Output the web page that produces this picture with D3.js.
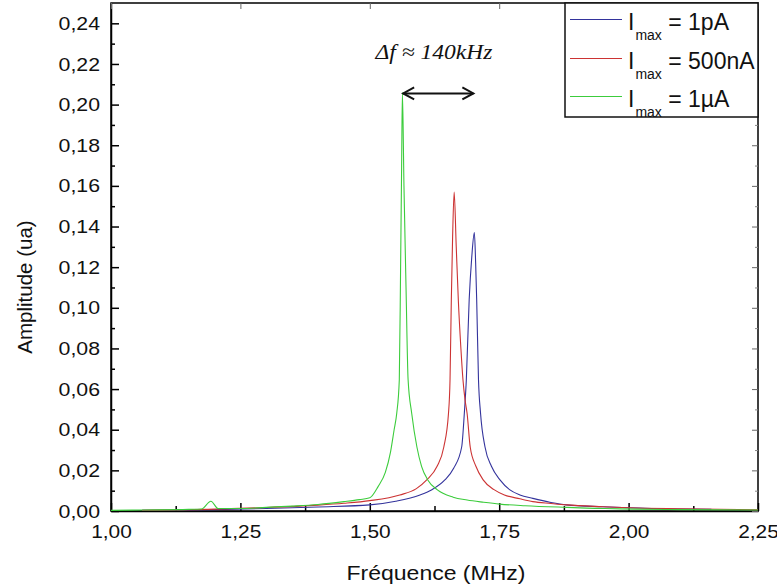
<!DOCTYPE html>
<html>
<head>
<meta charset="utf-8">
<script src="https://cdn.jsdelivr.net/npm/d3@7"></script>
<style>
  html, body { margin: 0; padding: 0; background: #fff; }
  svg { display: block; }
</style>
</head>
<body>
<svg id="chart" width="777" height="588"></svg>
<script>
// ---- data ----
const xTicks = [1.00, 1.25, 1.50, 1.75, 2.00, 2.25];
const yTicks = [0.00, 0.02, 0.04, 0.06, 0.08, 0.10, 0.12, 0.14, 0.16, 0.18, 0.20, 0.22, 0.24];

const blueF = [1.06, 1.20, 1.30, 1.40, 1.50, 1.55, 1.597, 1.62, 1.645, 1.662, 1.6775, 1.6826, 1.6865, 1.692, 1.697, 1.702, 1.7045, 1.7065, 1.710, 1.714, 1.7226, 1.735, 1.7515, 1.77, 1.79, 1.815, 1.85, 1.88, 1.95, 2.00, 2.10, 2.16];
const blueA = [0.0003, 0.0007, 0.0012, 0.0020, 0.0030, 0.0048, 0.0079, 0.0105, 0.0153, 0.021, 0.0315, 0.048, 0.0646, 0.104, 0.125, 0.137, 0.122, 0.104, 0.0646, 0.048, 0.0315, 0.022, 0.0153, 0.0105, 0.0079, 0.0062, 0.0042, 0.0030, 0.0021, 0.0016, 0.0010, 0.0008];

const redF = [1.06, 1.20, 1.30, 1.40, 1.45, 1.50, 1.558, 1.59, 1.61, 1.63, 1.643, 1.652, 1.655, 1.6575, 1.660, 1.663, 1.667, 1.671, 1.676, 1.680, 1.684, 1.688, 1.694, 1.705, 1.719, 1.74, 1.76, 1.79, 1.815, 1.85, 1.88, 1.95, 2.00, 2.10, 2.25];
const redA = [0.0004, 0.0009, 0.0017, 0.0029, 0.0038, 0.0051, 0.0079, 0.0110, 0.0153, 0.022, 0.0315, 0.048, 0.0646, 0.104, 0.135, 0.157, 0.130, 0.104, 0.080, 0.0646, 0.0547, 0.048, 0.0315, 0.022, 0.0153, 0.0105, 0.0079, 0.0060, 0.0046, 0.0037, 0.0030, 0.0021, 0.0016, 0.0011, 0.0006];

const greenF = [1.00, 1.06, 1.15, 1.175, 1.193, 1.207, 1.25, 1.30, 1.35, 1.40, 1.45, 1.48, 1.50, 1.516, 1.530, 1.540, 1.547, 1.552, 1.557, 1.5595, 1.5615, 1.563, 1.566, 1.570, 1.574, 1.581, 1.591, 1.600, 1.612, 1.630, 1.661, 1.688, 1.720, 1.751, 1.80, 1.881, 2.01, 2.10, 2.25];
const greenA = [0.0003, 0.0005, 0.0008, 0.0010, 0.0048, 0.0012, 0.0012, 0.0018, 0.0024, 0.0032, 0.0046, 0.0056, 0.0065, 0.0120, 0.0190, 0.0290, 0.040, 0.048, 0.0646, 0.12, 0.17, 0.206, 0.16, 0.11, 0.0646, 0.048, 0.0315, 0.022, 0.0153, 0.0105, 0.0068, 0.0054, 0.0043, 0.0034, 0.0026, 0.0018, 0.0009, 0.0007, 0.0005];

const seriesNames = ["1pA", "500nA", "1\u00b5A"];
const seriesColors = ["#33339c", "#cc3333", "#3ccc3c"];

const arrowF = [1.5625, 1.702];
const arrowA = 0.2055;
const annotF = 1.624;
const annotA = 0.2225;
const annotText = "\u0394f \u2248 140kHz";

// ---- layout ----
const svg = d3.select("#chart");
const L = 111, R = 758, T = 3, B = 511;
const x = d3.scaleLinear().domain([1.0, 2.25]).range([L, R]);
const y = d3.scaleLinear().domain([0, 0.25]).range([B, T]);
const fmt = v => d3.format(".2f")(v).replace(".", ",");
const SANS = "Arial, 'Liberation Sans', sans-serif";

// stretch text horizontally like the reference
function stretch(sel, k) {
  sel.each(function () {
    const w = this.getComputedTextLength();
    d3.select(this).attr("textLength", w * k).attr("lengthAdjust", "spacingAndGlyphs");
  });
}

// frame
svg.append("rect").attr("x", L).attr("y", T).attr("width", R - L).attr("height", B - T)
  .attr("fill", "none").attr("stroke", "#000").attr("stroke-width", 1.5);

// axes (ticks pointing inward)
const xMinor = d3.range(1.125, 2.25, 0.25);
const yMinor = d3.range(0.01, 0.25, 0.02);

const bottom = svg.append("g").attr("transform", `translate(0,${B})`)
  .call(d3.axisBottom(x).tickValues(xTicks).tickFormat(fmt).tickSizeInner(-8).tickSizeOuter(0).tickPadding(14));
bottom.select(".domain").attr("stroke-width", 1.5);
bottom.selectAll(".tick line").attr("stroke-width", 1.5);
bottom.selectAll("text").attr("font-family", SANS).attr("font-size", 19).attr("fill", "#111").call(stretch, 1.1);
svg.append("g").attr("transform", `translate(0,${B})`)
  .call(d3.axisBottom(x).tickValues(xMinor).tickFormat("").tickSizeInner(-5).tickSizeOuter(0))
  .call(g => g.select(".domain").remove()).selectAll("line").attr("stroke-width", 1.5);

const left = svg.append("g").attr("transform", `translate(${L},0)`)
  .call(d3.axisLeft(y).tickValues(yTicks).tickFormat(fmt).tickSizeInner(-8).tickSizeOuter(0).tickPadding(11));
left.select(".domain").attr("stroke-width", 1.5);
left.selectAll(".tick line").attr("stroke-width", 1.5);
left.selectAll("text").attr("font-family", SANS).attr("font-size", 19).attr("fill", "#111").call(stretch, 1.12);
svg.append("g").attr("transform", `translate(${L},0)`)
  .call(d3.axisLeft(y).tickValues(yMinor).tickFormat("").tickSizeInner(-4).tickSizeOuter(0))
  .call(g => g.select(".domain").remove()).selectAll("line").attr("stroke-width", 1.5);

// top & right axes ticks
svg.append("g").attr("transform", `translate(0,${T})`)
  .call(d3.axisTop(x).tickValues(xTicks).tickFormat("").tickSizeInner(-6).tickSizeOuter(0))
  .call(g => g.select(".domain").remove()).selectAll("line").attr("stroke", "#666");
svg.append("g").attr("transform", `translate(${R},0)`)
  .call(d3.axisRight(y).tickValues(yTicks).tickFormat("").tickSizeInner(-6).tickSizeOuter(0))
  .call(g => g.select(".domain").remove()).selectAll("line").attr("stroke", "#666");
svg.append("g").attr("transform", `translate(${R},0)`)
  .call(d3.axisRight(y).tickValues(yMinor).tickFormat("").tickSizeInner(-3).tickSizeOuter(0))
  .call(g => g.select(".domain").remove()).selectAll("line").attr("stroke", "#888");

// axis titles
svg.append("text").attr("x", 436).attr("y", 580).attr("text-anchor", "middle")
  .attr("font-family", SANS).attr("font-size", 20).attr("fill", "#111")
  .text("Fréquence (MHz)").call(stretch, 1.15);
svg.append("text").attr("transform", `translate(32,287) rotate(-90)`).attr("text-anchor", "middle")
  .attr("font-family", SANS).attr("font-size", 20.5).attr("fill", "#111")
  .text("Amplitude (ua)");

// curves
const line = d3.line().x(d => x(d[0])).y(d => y(d[1])).curve(d3.curveMonotoneX);
const series = [
  d3.zip(blueF, blueA),
  d3.zip(redF, redA),
  d3.zip(greenF, greenA)
];
series.forEach((s, i) => {
  svg.append("path").datum(s).attr("d", line).attr("fill", "none")
    .attr("stroke", seriesColors[i]).attr("stroke-width", 1.1).attr("stroke-linejoin", "round");
});

// annotation arrow
const ay = y(arrowA);
const x1 = x(arrowF[0]), x2 = x(arrowF[1]);
const ag = svg.append("g").attr("stroke", "#111").attr("stroke-width", 2).attr("fill", "none");
ag.append("line").attr("x1", x1 + 1).attr("x2", x2 - 1).attr("y1", ay).attr("y2", ay);
ag.append("path").attr("d", `M${x1 + 12},${ay - 6} L${x1 + 1},${ay} L${x1 + 12},${ay + 6}`);
ag.append("path").attr("d", `M${x2 - 12},${ay - 6} L${x2 - 1},${ay} L${x2 - 12},${ay + 6}`);

svg.append("text").attr("x", x(annotF)).attr("y", y(annotA)).attr("text-anchor", "middle")
  .attr("font-family", "'Liberation Serif', 'DejaVu Serif', serif").attr("font-style", "italic")
  .attr("font-size", 21).attr("fill", "#111").text(annotText).call(stretch, 1.12);

// legend
const lg = svg.append("g");
lg.append("rect").attr("x", 565).attr("y", T).attr("width", R - 565).attr("height", 114)
  .attr("fill", "#fff").attr("stroke", "#111").attr("stroke-width", 1.5);
seriesNames.forEach((n, i) => {
  const cy = Math.round(19 + i * 38.5) + 0.5;
  lg.append("line").attr("x1", 570).attr("x2", 622).attr("y1", cy).attr("y2", cy)
    .attr("stroke", seriesColors[i]).attr("stroke-width", 1);
  const t = lg.append("text").attr("x", 628).attr("y", cy + 10)
    .attr("font-family", SANS).attr("font-size", 23).attr("fill", "#111");
  t.append("tspan").text("I");
  t.append("tspan").attr("font-size", 14).attr("dy", 10).attr("dx", 1).text("max");
  t.append("tspan").attr("dy", -10).text(" = " + n);
});
</script>
</body>
</html>
